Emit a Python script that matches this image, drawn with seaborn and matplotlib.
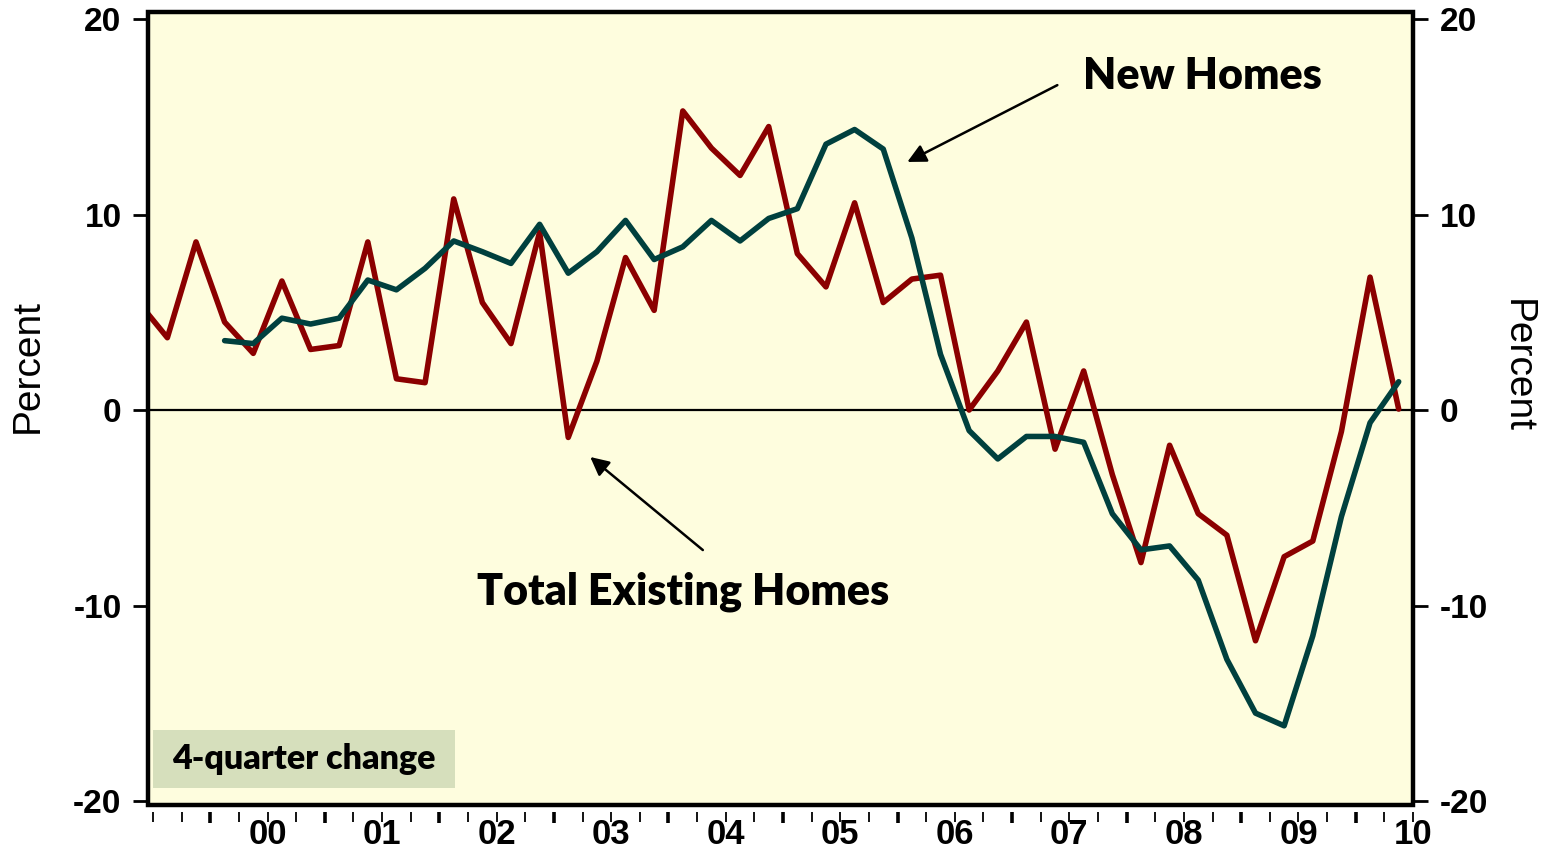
import matplotlib
matplotlib.use("Agg")
import matplotlib.pyplot as plt
import seaborn as sns
import pandas as pd
import numpy as np
from matplotlib.patches import Rectangle
from matplotlib.ticker import FixedLocator, FixedFormatter, NullFormatter

# ---------------- data (4-quarter % change) ----------------
existing_start = "1999Q2"
existing_values = [5.5, 3.7, 8.6, 4.5, 2.9, 6.6, 3.1, 3.3, 8.6, 1.6, 1.4, 10.8,
                   5.5, 3.4, 9.1, -1.4, 2.5, 7.8, 5.1, 15.3, 13.4, 12.0, 14.5,
                   8.0, 6.3, 10.6, 5.5, 6.7, 6.9, 0.0, 2.0, 4.5, -2.0, 2.0,
                   -3.3, -7.8, -1.8, -5.3, -6.4, -11.8, -7.5, -6.7, -1.1, 6.8, 0.05]
new_start = "2000Q1"
new_values = [3.55, 3.4, 4.7, 4.4, 4.7, 6.65, 6.15, 7.25, 8.65, 8.1, 7.5, 9.5,
              7.0, 8.1, 9.7, 7.7, 8.35, 9.7, 8.65, 9.8, 10.3, 13.6, 14.35, 13.35,
              8.8, 2.85, -1.05, -2.5, -1.35, -1.35, -1.65, -5.3, -7.15, -6.95,
              -8.7, -12.75, -15.5, -16.15, -11.55, -5.45, -0.65, 1.45]
year_labels = ["00", "01", "02", "03", "04", "05", "06", "07", "08", "09", "10"]
yticks = [-20, -10, 0, 10, 20]

RED = "#8B0000"
GREEN = "#00403E"
BG = "#FEFDDE"
BOX = "#D6DFBC"


def quarter_mid(start, n):
    p = pd.period_range(start, periods=n, freq="Q")
    return np.array([q.year + (q.quarter - 0.5) / 4 for q in p])


df_exist = pd.DataFrame({"t": quarter_mid(existing_start, len(existing_values)),
                         "v": existing_values})
df_new = pd.DataFrame({"t": quarter_mid(new_start, len(new_values)),
                       "v": new_values})

sns.set_style("white")
plt.rcParams["font.family"] = ["Liberation Sans", "DejaVu Sans"]
plt.rcParams["text.color"] = "black"
plt.rcParams["xtick.color"] = "black"
plt.rcParams["ytick.color"] = "black"
plt.rcParams["axes.labelcolor"] = "black"

W, H = 1544, 852
fig = plt.figure(figsize=(W / 100, H / 100), dpi=100)
L, R, T, B = 148, 1413, 12, 805
ax = fig.add_axes([L / W, 1 - B / H, (R - L) / W, (B - T) / H])
ax.set_facecolor(BG)

ax.axhline(0, color="black", lw=1.6, zorder=1)
sns.lineplot(data=df_exist, x="t", y="v", ax=ax, color=RED, lw=4.0,
             estimator=None, sort=False, zorder=3)
sns.lineplot(data=df_new, x="t", y="v", ax=ax, color=GREEN, lw=4.0,
             estimator=None, sort=False, zorder=4)

ax.set_xlim(1999.456, 2010.5)
ax.set_ylim(-20.2, 20.36)
ax.set_xlabel("")
ax.set_ylabel("")

# frame
for s in ax.spines.values():
    s.set_visible(False)
ax.add_patch(Rectangle((0, 0), 1, 1, transform=ax.transAxes, fill=False,
                       lw=3.2, ec="black", zorder=10, clip_on=False))

# y ticks both sides
ax.set_yticks(yticks)
ax.set_yticklabels([str(v) for v in yticks])
ax.tick_params(axis="y", which="major", left=True, right=True,
               labelleft=True, labelright=True, direction="out",
               length=11, width=2.0, pad=8, labelsize=24, colors="black")
for t in ax.yaxis.get_major_ticks():
    t.label1.set_fontweight("bold")
    t.label2.set_fontweight("bold")

# x ticks: thick at year boundaries, thin every quarter, labels mid-year
ax.spines["bottom"].set_position(("outward", 5))
years = list(range(2000, 2011))
quarters = [y + f for y in range(1999, 2011) for f in (0.25, 0.5, 0.75)
            if 1999.5 <= y + f <= 2010.5]
ax.xaxis.set_major_locator(FixedLocator(years))
ax.xaxis.set_major_formatter(NullFormatter())
ax.xaxis.set_minor_locator(FixedLocator(quarters))
minor_labels = []
for q in quarters:
    if abs(q % 1 - 0.5) < 1e-9 and q >= 2000.5:
        minor_labels.append(year_labels[int(q - 2000.5)])
    else:
        minor_labels.append("")
ax.xaxis.set_minor_formatter(FixedFormatter(minor_labels))
ax.tick_params(axis="x", which="major", bottom=True, direction="out",
               length=8, width=2.6, colors="black")
ax.tick_params(axis="x", which="minor", bottom=True, direction="out",
               length=7.5, width=1.3, pad=-3, labelsize=25, colors="black")
for lab in ax.xaxis.get_minorticklabels():
    lab.set_fontweight("bold")
    lab.set_family(["Liberation Sans Narrow", "Liberation Sans"])

# axis titles
fig.text(28 / W, 1 - 366 / H, "Percent", rotation=90, ha="center", va="center",
         fontsize=28)
fig.text(1517 / W, 1 - 366 / H, "Percent", rotation=270, ha="center", va="center",
         fontsize=28)

# annotations
ann_font = dict(family=["Lato", "DejaVu Sans"], fontweight="heavy", fontsize=31)
ax.text(2007.62, 17.1, "New Homes", ha="left", va="center", **ann_font)
ax.annotate("", xy=(2006.085, 12.69), xytext=(2007.395, 16.62),
            arrowprops=dict(arrowstyle="-|>", color="black", lw=1.8,
                            mutation_scale=28, shrinkA=0, shrinkB=0))
ax.text(2004.13, -9.3, "Total Existing Homes", ha="center", va="center", **ann_font)
ax.annotate("", xy=(2003.317, -2.40), xytext=(2004.30, -7.16),
            arrowprops=dict(arrowstyle="-|>", color="black", lw=1.8,
                            mutation_scale=28, shrinkA=0, shrinkB=0))

# 4-quarter change box
ax.add_patch(Rectangle((1999.5, -19.33), 2.64, 2.96, facecolor=BOX,
                       edgecolor="none", zorder=5))
ax.text(2000.82, -17.85, "4-quarter change", ha="center", va="center",
        family=["Lato", "DejaVu Sans"], fontweight="heavy", fontsize=24.5, zorder=6)

fig.savefig("out.png", dpi=100, facecolor="white")
